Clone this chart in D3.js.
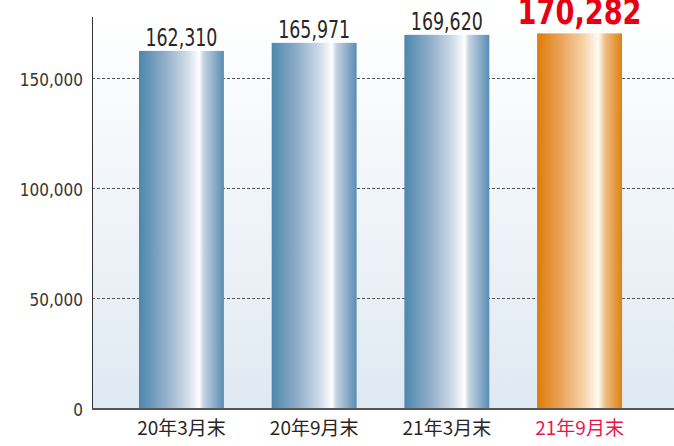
<!DOCTYPE html>
<html>
<head>
<meta charset="utf-8">
<script src="https://cdn.jsdelivr.net/npm/d3@7"></script>
<style>
  html, body { margin: 0; padding: 0; background: #fff; }
  svg { display: block; }
</style>
</head>
<body>
<svg id="chart"></svg>
<script>
const categories = ["20年3月末", "20年9月末", "21年3月末", "21年9月末"];
const values = [162310, 165971, 169620, 170282];
const yTicks = [0, 50000, 100000, 150000];
const highlightIndex = 3;

const width = 674, height = 446;
const plotLeft = 92, plotRight = 674, plotBottom = 408, plotTop = 17;
const narrow = '"Liberation Sans Narrow", "DejaVu Sans Condensed", "Roboto", sans-serif';

const svg = d3.select("#chart").attr("width", width).attr("height", height);

const x = d3.scaleBand().domain(categories).range([plotLeft, 669]).paddingInner(0.36).paddingOuter(0.354);
const y = d3.scaleLinear().domain([0, 150000]).range([plotBottom, 78]);

const defs = svg.append("defs");

const bg = defs.append("linearGradient").attr("id", "bg")
    .attr("x1", 0).attr("y1", 0).attr("x2", 0).attr("y2", 1);
bg.append("stop").attr("offset", "0%").attr("stop-color", "#ffffff");
bg.append("stop").attr("offset", "100%").attr("stop-color", "#dfe9f2");

function barGrad(id, stops) {
    const g = defs.append("linearGradient").attr("id", id)
        .attr("x1", 0).attr("y1", 0).attr("x2", 1).attr("y2", 0);
    stops.forEach(s => g.append("stop").attr("offset", s[0]).attr("stop-color", s[1]));
}
barGrad("blue", [["0%", "#4d87ad"], ["30%", "#8fadc8"], ["58%", "#d3deea"], ["71%", "#ffffff"], ["76%", "#c5d3e2"], ["100%", "#5a8db4"]]);
barGrad("orange", [["0%", "#df7c08"], ["30%", "#eaa660"], ["56%", "#f6d5ac"], ["72%", "#fffcf6"], ["80%", "#efbe86"], ["100%", "#e0810e"]]);

// plot background
svg.append("rect")
    .attr("x", plotLeft).attr("y", plotTop)
    .attr("width", plotRight - plotLeft).attr("height", plotBottom - plotTop)
    .attr("fill", "url(#bg)");

// gridlines
svg.selectAll(".grid")
    .data(yTicks.filter(d => d > 0))
    .enter()
    .append("line")
    .attr("class", "grid")
    .attr("x1", plotLeft).attr("x2", plotRight)
    .attr("y1", d => y(d) + 0.5).attr("y2", d => y(d) + 0.5)
    .attr("stroke", "#555")
    .attr("stroke-width", 1)
    .attr("stroke-dasharray", "3,2");

// bars
svg.selectAll(".bar")
    .data(values)
    .enter()
    .append("rect")
    .attr("class", "bar")
    .attr("x", (d, i) => x(categories[i]))
    .attr("y", d => y(d))
    .attr("width", x.bandwidth())
    .attr("height", d => plotBottom - y(d))
    .attr("fill", (d, i) => i === highlightIndex ? "url(#orange)" : "url(#blue)");

// value labels (squeezed a bit, the original face is narrow)
svg.selectAll(".val")
    .data(values)
    .enter()
    .append("text")
    .attr("class", "val")
    .attr("x", (d, i) => x(categories[i]) + x.bandwidth() / 2)
    .attr("y", (d, i) => i === highlightIndex ? 24 : y(d) - 5)
    .attr("text-anchor", "middle")
    .attr("textLength", (d, i) => i === highlightIndex ? 124 : 72)
    .attr("lengthAdjust", "spacingAndGlyphs")
    .style("font-family", narrow)
    .style("font-size", (d, i) => i === highlightIndex ? "36px" : "24px")
    .style("font-weight", (d, i) => i === highlightIndex ? "bold" : "normal")
    .attr("fill", (d, i) => i === highlightIndex ? "#e60012" : "#2b2523")
    .text(d => d3.format(",")(d));

// y axis
const yAxis = svg.append("g")
    .attr("transform", `translate(${plotLeft},0)`)
    .call(d3.axisLeft(y).tickValues(yTicks).tickSize(0).tickPadding(9).tickFormat(d3.format(",")));
yAxis.select(".domain").remove();
yAxis.selectAll("text")
    .style("font-family", narrow)
    .style("font-size", "17px")
    .attr("dy", "0.45em")
    .attr("fill", "#3a3330");
svg.append("line")
    .attr("x1", plotLeft + 0.5).attr("x2", plotLeft + 0.5)
    .attr("y1", plotTop).attr("y2", plotBottom)
    .attr("stroke", "#333").attr("stroke-width", 1);

// x axis
const xAxis = svg.append("g")
    .attr("transform", `translate(0,${plotBottom})`)
    .call(d3.axisBottom(x).tickSize(0).tickPadding(14));
xAxis.select(".domain").remove();
xAxis.selectAll("text")
    .style("font-family", '"Noto Sans CJK JP", sans-serif')
    .style("font-size", "19px")
    .attr("fill", (d, i) => i === highlightIndex ? "#e8174a" : "#2b2523");
svg.append("line")
    .attr("x1", plotLeft).attr("x2", plotRight)
    .attr("y1", plotBottom + 1).attr("y2", plotBottom + 1)
    .attr("stroke", "#555").attr("stroke-width", 2);
</script>
</body>
</html>
